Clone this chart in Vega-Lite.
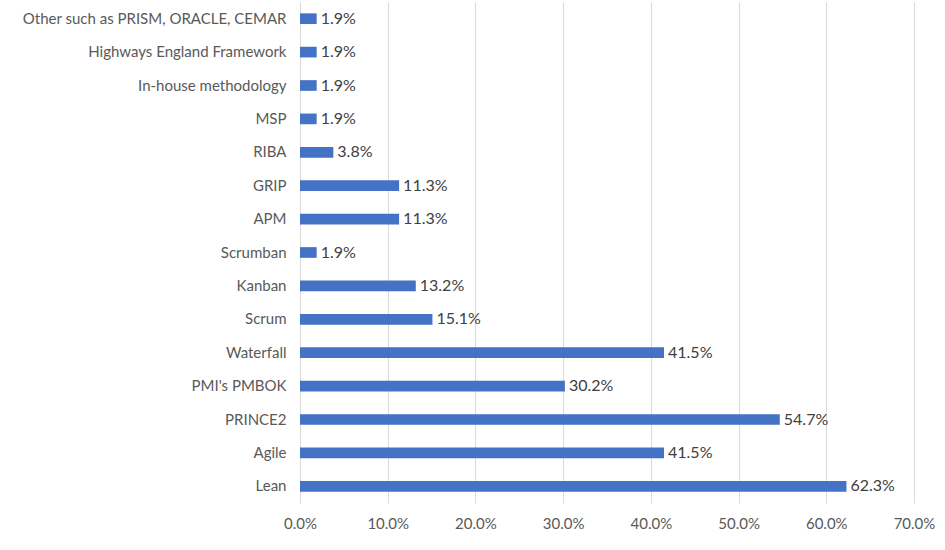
{
  "$schema": "https://vega.github.io/schema/vega-lite/v6.json",
  "autosize": {"type": "none"},
  "width": 614,
  "height": 501,
  "padding": {"left": 300, "top": 2, "right": 31, "bottom": 47},
  "background": "white",
  "data": {
    "values": [
      {"method": "Other such as PRISM, ORACLE, CEMAR", "share": 0.019},
      {"method": "Highways England Framework", "share": 0.019},
      {"method": "In-house methodology", "share": 0.019},
      {"method": "MSP", "share": 0.019},
      {"method": "RIBA", "share": 0.038},
      {"method": "GRIP", "share": 0.113},
      {"method": "APM", "share": 0.113},
      {"method": "Scrumban", "share": 0.019},
      {"method": "Kanban", "share": 0.132},
      {"method": "Scrum", "share": 0.151},
      {"method": "Waterfall", "share": 0.415},
      {"method": "PMI's PMBOK", "share": 0.302},
      {"method": "PRINCE2", "share": 0.547},
      {"method": "Agile", "share": 0.415},
      {"method": "Lean", "share": 0.623}
    ]
  },
  "config": {
    "view": {"stroke": null},
    "font": "Lato"
  },
  "encoding": {
    "y": {
      "field": "method",
      "type": "nominal",
      "sort": null,
      "scale": {"paddingInner": 0.68, "paddingOuter": 0.34},
      "axis": {
        "title": null,
        "ticks": false,
        "domain": true,
        "domainColor": "#d9d9d9",
        "labelFont": "Lato",
        "labelFontSize": 15,
        "labelColor": "#595959",
        "labelPadding": 14,
        "labelLimit": 300
      }
    },
    "x": {
      "field": "share",
      "type": "quantitative",
      "scale": {"domain": [0, 0.7], "nice": false},
      "axis": {
        "title": null,
        "format": ".1%",
        "values": [0, 0.1, 0.2, 0.3, 0.4, 0.5, 0.6, 0.7],
        "ticks": false,
        "domain": false,
        "labelFlush": false,
        "gridColor": "#d9d9d9",
        "labelFont": "Lato",
        "labelFontSize": 15,
        "labelColor": "#595959",
        "labelPadding": 13
      }
    }
  },
  "layer": [
    {"mark": {"type": "bar", "color": "#4472C4"}},
    {
      "mark": {"type": "text", "align": "left", "dx": 4, "fontSize": 16, "color": "#404040", "font": "Lato"},
      "encoding": {"text": {"field": "share", "type": "quantitative", "format": ".1%"}}
    }
  ]
}
